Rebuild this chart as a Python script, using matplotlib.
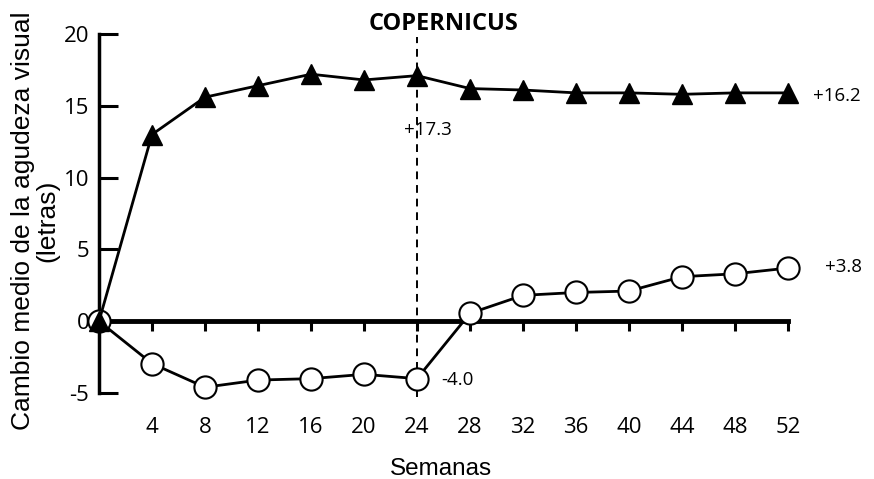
import matplotlib
matplotlib.use("Agg")
import matplotlib.pyplot as plt

weeks = [0, 4, 8, 12, 16, 20, 24, 28, 32, 36, 40, 44, 48, 52]
ranibizumab = [0, 13.0, 15.6, 16.4, 17.2, 16.8, 17.1, 16.2, 16.1, 15.9, 15.9, 15.8, 15.9, 15.9]
sham = [0, -2.95, -4.6, -4.1, -4.0, -3.7, -4.0, 0.55, 1.8, 2.0, 2.1, 3.1, 3.3, 3.7]
xtick_vals = [4, 8, 12, 16, 20, 24, 28, 32, 36, 40, 44, 48, 52]
ytick_vals = [-5, 0, 5, 10, 15, 20]
ytick_labels = ["-5", "0", "5", "10", "15", "20"]
title = "COPERNICUS"
xlabel = "Semanas"
ylabel = "Cambio medio de la agudeza visual\n(letras)"
annotations = [(23.0, 13.3, "+17.3"), (53.9, 15.7, "+16.2"), (54.8, 3.75, "+3.8"), (25.8, -4.1, "-4.0")]
switch_week = 24

fig = plt.figure(figsize=(8.74, 4.79), dpi=100)
ax = fig.add_axes([99/874, 1-393/479, 689/874, 359/479])
ax.set_xlim(0, 52)
ax.set_ylim(-5, 20)

tick_font = "Open Sans"

ax.plot([switch_week, switch_week], [-5.3, 19.8], color="black", lw=1.4,
        ls=(0, (4, 3)), clip_on=False, zorder=1)
ax.plot(weeks, sham, color="black", lw=2.0, marker="o", ms=16, mfc="white",
        mec="black", mew=1.5, clip_on=False, zorder=3)
ax.plot(weeks, ranibizumab, color="black", lw=2.0, marker="^", ms=15,
        mfc="black", mec="black", clip_on=False, zorder=4)

for s in ["top", "right"]:
    ax.spines[s].set_visible(False)
ax.spines["left"].set_position(("data", 0))
ax.spines["left"].set_bounds(-5, 20)
ax.spines["left"].set_linewidth(2.5)
ax.spines["bottom"].set_position(("data", 0))
ax.spines["bottom"].set_bounds(0, 52)
ax.spines["bottom"].set_linewidth(3.5)

ax.set_xticks(xtick_vals)
ax.set_xticklabels([str(v) for v in xtick_vals], fontfamily=tick_font, fontsize=16)
ax.set_yticks(ytick_vals)
ax.set_yticklabels(ytick_labels, fontfamily=tick_font, fontsize=16)
ax.tick_params(axis="x", direction="out", length=7, width=2.2, pad=62)
ax.tick_params(axis="y", direction="in", length=14, width=2.2, pad=7)

for x, y, t in annotations:
    ax.text(x, y, t, fontfamily=tick_font, fontsize=13.5, ha="left", va="center",
            clip_on=False)

fig.text(444/874, 1-23.5/479, title, fontfamily="Open Sans", fontweight="bold",
         fontsize=17, ha="center", va="center")
fig.text(441/874, 1-469/479, xlabel, fontfamily="Liberation Sans", fontsize=17.5,
         ha="center", va="center")
fig.text(35/874, 1-221/479, ylabel, fontfamily="Liberation Sans", fontsize=19,
         ha="center", va="center", rotation=90, multialignment="center",
         linespacing=1.0)

fig.savefig("out.png", dpi=100)
